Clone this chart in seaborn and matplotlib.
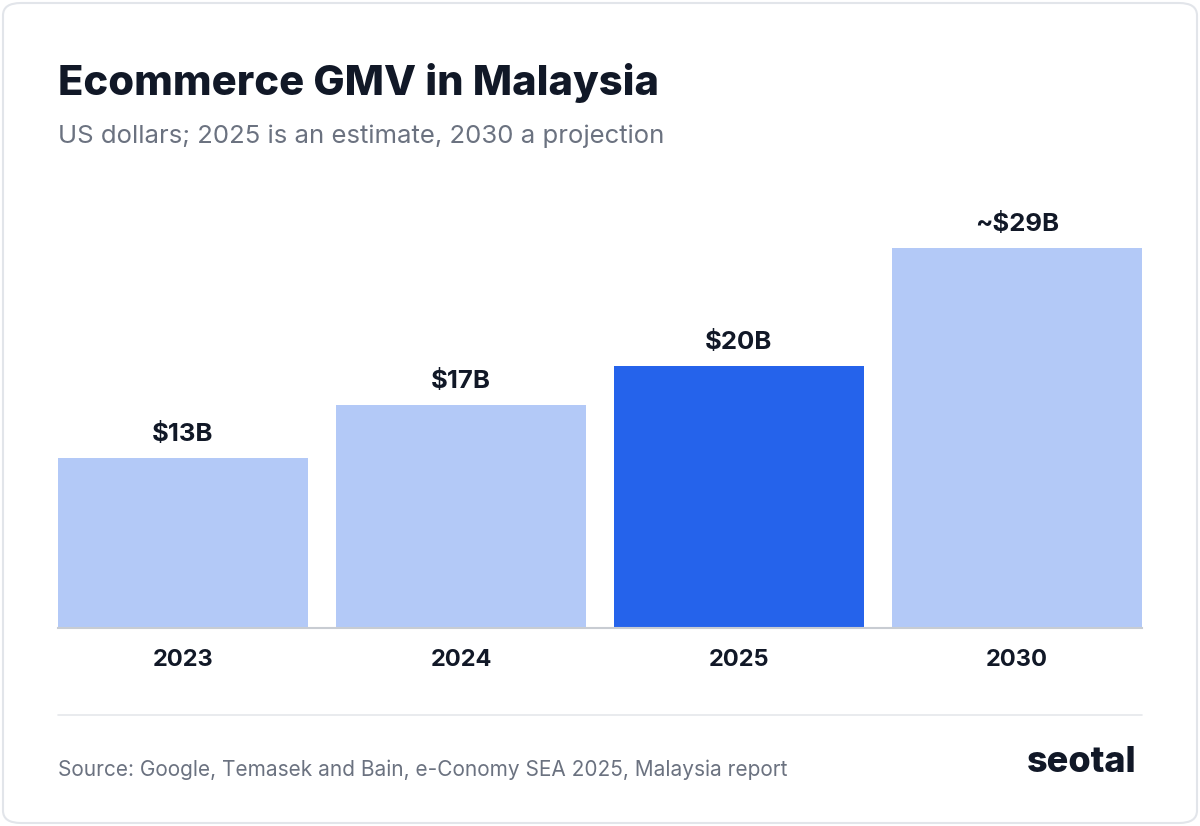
import numpy as np
import pandas as pd
import matplotlib.pyplot as plt
import seaborn as sns
from matplotlib.patches import FancyBboxPatch

# data
years = ['2023', '2024', '2025', '2030']
gmv = [13, 17, 20, 29]
labels = ['$13B', '$17B', '$20B', '~$29B']
colors = ['#b3c9f7', '#b3c9f7', '#2563eb', '#b3c9f7']

sns.set_style('white')
plt.rcParams['font.family'] = ['Inter', 'DejaVu Sans']

W, H = 1200, 826
fig = plt.figure(figsize=(W / 100, H / 100), dpi=100)

# card background (kept behind the axes)
fig.patches.append(FancyBboxPatch((3 / W, 3 / H), 1 - 6 / W, 1 - 6 / H,
                                  boxstyle='round,pad=0,rounding_size=0.015',
                                  transform=fig.transFigure, facecolor='white',
                                  edgecolor='#e2e5ea', linewidth=1.5, zorder=-10))

ax = fig.add_axes([58 / W, (H - 628) / H, (1142 - 58) / W, 438 / H])
ax.set_zorder(5)
ax.patch.set_alpha(0)
df = pd.DataFrame({'year': years, 'gmv': gmv})
sns.barplot(data=df, x='year', y='gmv', hue='year', palette=colors,
            legend=False, width=0.9, saturation=1, linewidth=0, ax=ax)
ax.set_xlim(-0.45, 3.45)
ax.set_ylim(0, 438 / 380 * 29)

for i, (v, t) in enumerate(zip(gmv, labels)):
    ax.text(i, v + 0.9, t, ha='center', va='bottom', fontsize=18.5,
            fontweight='bold', color='#111827')

sns.despine(ax=ax, left=True)
ax.spines['bottom'].set_color('#c8ccd2')
ax.spines['bottom'].set_linewidth(1.5)
ax.set_yticks([])
ax.set_xlabel('')
ax.set_ylabel('')
ax.tick_params(axis='x', length=0, pad=15, labelsize=17, labelcolor='#111827')
for lbl in ax.get_xticklabels():
    lbl.set_fontweight('bold')

fig.text(58 / W, 1 - 83 / H, 'Ecommerce GMV in Malaysia', fontsize=30,
         fontweight='heavy', color='#111827', va='center')
fig.text(58 / W, 1 - 136 / H, 'US dollars; 2025 is an estimate, 2030 a projection',
         fontsize=18.5, color='#6b7280', va='center')

fig.add_artist(plt.Line2D([58 / W, 1142 / W], [1 - 715 / H, 1 - 715 / H],
                          color='#e5e7eb', linewidth=1.2))
fig.text(58 / W, 1 - 770 / H,
         'Source: Google, Temasek and Bain, e-Conomy SEA 2025, Malaysia report',
         fontsize=15, color='#6b7280', va='center')
fig.text(1137 / W, 1 - 762 / H, 'seotal', fontsize=26, fontweight='heavy',
         color='#111827', ha='right', va='center')

fig.savefig('out.png', dpi=100)
